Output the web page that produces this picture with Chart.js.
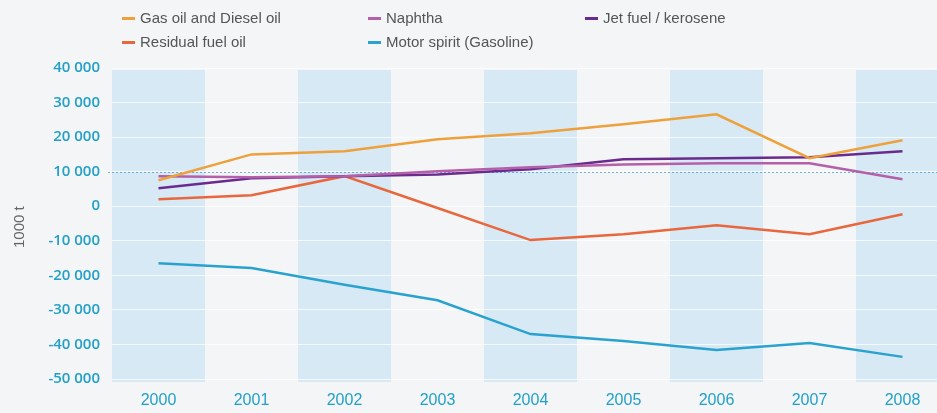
<!DOCTYPE html>
<html>
<head>
<meta charset="utf-8">
<script src="https://cdn.jsdelivr.net/npm/chart.js@4/dist/chart.umd.min.js"></script>
<style>
  html, body { margin: 0; padding: 0; background: #f4f5f7; overflow: hidden; }
  #wrap { position: relative; width: 937px; height: 413px; overflow: hidden; }
  #cv { position: absolute; left: 0; top: 0; }
  .leg { position: absolute; font-family: "Liberation Sans", sans-serif; font-size: 15px; color: #555; white-space: nowrap; line-height: 18px; }
  .leg span.d { display: inline-block; width: 13px; height: 3px; vertical-align: middle; margin-right: 5px; position: relative; top: -1px; }
  #ytitle { position: absolute; left: 10px; transform: rotate(-90deg); transform-origin: left top; font-family: "Liberation Sans", sans-serif; font-size: 15px; color: #666; }
</style>
</head>
<body>
<div id="wrap">
  <canvas id="cv" width="949" height="413"></canvas>
  <div id="legend"></div>
  <div id="ytitle" style="top:248px">1000 t</div>
</div>
<script>
const years = ['2000','2001','2002','2003','2004','2005','2006','2007','2008'];
const gasOilDiesel = [7500, 15000, 15900, 19400, 21100, 23700, 26600, 13900, 19100];
const naphtha      = [8700, 8400, 8700, 10100, 11300, 12100, 12400, 12400, 7800];
const jetFuel      = [5200, 8100, 8700, 9200, 10700, 13600, 13900, 14200, 15900];
const residualFuel = [2000, 3200, 8700, -500, -9800, -8100, -5500, -8100, -2300];
const motorSpirit  = [-16500, -17900, -22700, -27200, -37000, -39000, -41600, -39600, -43600];
const seriesNames  = ['Gas oil and Diesel oil', 'Naphtha', 'Jet fuel / kerosene', 'Residual fuel oil', 'Motor spirit (Gasoline)'];
const seriesColors = ['#eea13b', '#b55fa9', '#6a2b8e', '#e8673c', '#2aa2d0'];
const yMin = -50000, yMax = 40000, yStep = 10000;

function fmt(v) {
  const s = String(Math.abs(v)).replace(/\B(?=(\d{3})+(?!\d))/g, ' ');
  return (v < 0 ? '-' : '') + s;
}

// HTML legend
const legPos = [[122, 9], [368, 9], [585, 9], [122, 33], [368, 33]];
const legEl = document.getElementById('legend');
seriesNames.forEach((n, i) => {
  const d = document.createElement('div');
  d.className = 'leg';
  d.style.left = legPos[i][0] + 'px';
  d.style.top = legPos[i][1] + 'px';
  d.innerHTML = '<span class="d" style="background:' + seriesColors[i] + '"></span>' + n;
  legEl.appendChild(d);
});

const bandPlugin = {
  id: 'bands',
  beforeDraw(chart) {
    const { ctx, chartArea, scales } = chart;
    const xs = scales.x, ys = scales.y;
    const w = (chartArea.right - chartArea.left) / years.length;
    ctx.save();
    ctx.fillStyle = '#d6e9f5';
    years.forEach((y, i) => {
      if (i % 2 === 0) {
        const cx = xs.getPixelForValue(i);
        ctx.fillRect(cx - w / 2, chartArea.top + 2, w, chartArea.bottom - chartArea.top + 1);
      }
    });
    const yy = Math.round(ys.getPixelForValue(10000)) + 0.5;
    ctx.strokeStyle = 'rgba(70,150,200,0.75)';
    ctx.setLineDash([2, 2]);
    ctx.lineWidth = 1;
    ctx.beginPath();
    ctx.moveTo(chartArea.left - 4, yy);
    ctx.lineTo(chartArea.right, yy);
    ctx.stroke();
    ctx.restore();
  }
};

const datasets = [gasOilDiesel, naphtha, jetFuel, residualFuel, motorSpirit].map((d, i) => ({
  label: seriesNames[i],
  data: d,
  borderColor: seriesColors[i],
  backgroundColor: seriesColors[i],
  borderWidth: 2.5,
  pointRadius: 0,
  tension: 0,
  fill: false
}));

new Chart(document.getElementById('cv'), {
  type: 'line',
  data: { labels: years, datasets: datasets },
  plugins: [bandPlugin],
  options: {
    responsive: false,
    animation: false,
    events: [],
    layout: { padding: { top: 68, left: 0, right: 0, bottom: 0 } },
    plugins: { legend: { display: false }, tooltip: { enabled: false } },
    scales: {
      x: {
        offset: true,
        grid: { display: false, drawTicks: false },
        border: { display: false },
        ticks: { color: '#22a0c8', padding: 12, font: { family: 'Liberation Sans, sans-serif', size: 16 } },
        afterFit(s) { s.height = 34; }
      },
      y: {
        min: yMin, max: yMax,
        grid: { color: 'rgba(255,255,255,0.7)', drawTicks: false, lineWidth: 1 },
        border: { display: false },
        ticks: {
          stepSize: yStep,
          color: '#22a0c8',
          padding: 12,
          font: { family: 'Open Sans, sans-serif', size: 15, weight: '600' },
          callback: v => fmt(v)
        },
        afterFit(s) { s.width = 112; }
      }
    }
  }
});
</script>
</body>
</html>
